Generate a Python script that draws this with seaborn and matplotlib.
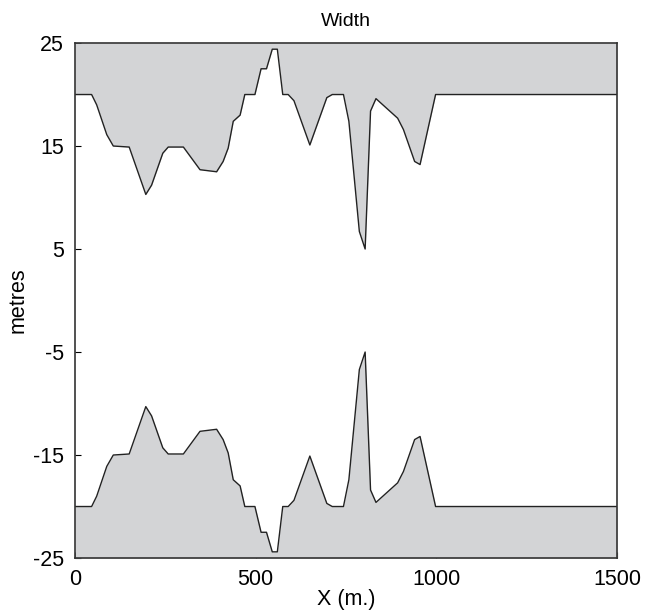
import numpy as np
import pandas as pd
import matplotlib
matplotlib.use('Agg')
import matplotlib.pyplot as plt
import seaborn as sns

# channel half-width profile (upper bank, lower is mirrored)
x_m = [0, 46, 60, 88, 106, 150, 196, 212, 243, 258, 300, 346, 392, 410, 424,
       438, 457, 470, 498, 515, 530, 546, 560, 575, 590, 606, 650, 697, 712,
       743, 758, 787, 803, 818, 833, 893, 909, 940, 955, 998, 1500]
half_width = [20, 20, 19, 16.1, 15, 14.9, 10.3, 11.2, 14.3, 14.9, 14.9, 12.7,
              12.5, 13.5, 14.8, 17.4, 18.0, 20, 20, 22.5, 22.5, 24.4, 24.4, 20,
              20, 19.4, 15.1, 19.7, 20, 20, 17.4, 6.7, 5.0, 18.4, 19.6, 17.7,
              16.6, 13.5, 13.2, 20, 20]

df = pd.DataFrame({'x': x_m, 'upper': half_width})
df['lower'] = -df['upper']

sns.set_style('ticks')
plt.rcParams['font.family'] = ['Liberation Sans', 'DejaVu Sans']
plt.rcParams['axes.unicode_minus'] = False
plt.rcParams['text.color'] = 'black'
plt.rcParams['axes.labelcolor'] = 'black'
plt.rcParams['xtick.color'] = 'black'
plt.rcParams['ytick.color'] = 'black'

fig = plt.figure(figsize=(6.47, 6.12), dpi=100)
ax = fig.add_axes([0.1159, 0.0882, 0.8377, 0.8415])

grey = '#d3d4d6'
ax.fill_between(df['x'], df['upper'], 25, color=grey, linewidth=0)
ax.fill_between(df['x'], df['lower'], -25, color=grey, linewidth=0)
sns.lineplot(data=df, x='x', y='upper', color='#222222', linewidth=1.0, ax=ax)
sns.lineplot(data=df, x='x', y='lower', color='#222222', linewidth=1.0, ax=ax)

ax.set_xlim(0, 1500)
ax.set_ylim(-25, 25)
ax.set_xticks([0, 500, 1000, 1500])
ax.set_yticks([-25, -15, -5, 5, 15, 25])
ax.tick_params(direction='in', labelsize=15.5, length=4, width=0.8, pad=8)
for s in ax.spines.values():
    s.set_linewidth(1.2)
    s.set_color('#333333')

ax.set_title('Width', fontsize=14, pad=12)
ax.set_xlabel('X (m.)', fontsize=15.5, labelpad=-1)
ax.set_ylabel('metres', fontsize=15.5, labelpad=3)

plt.savefig('out.png', dpi=100)
